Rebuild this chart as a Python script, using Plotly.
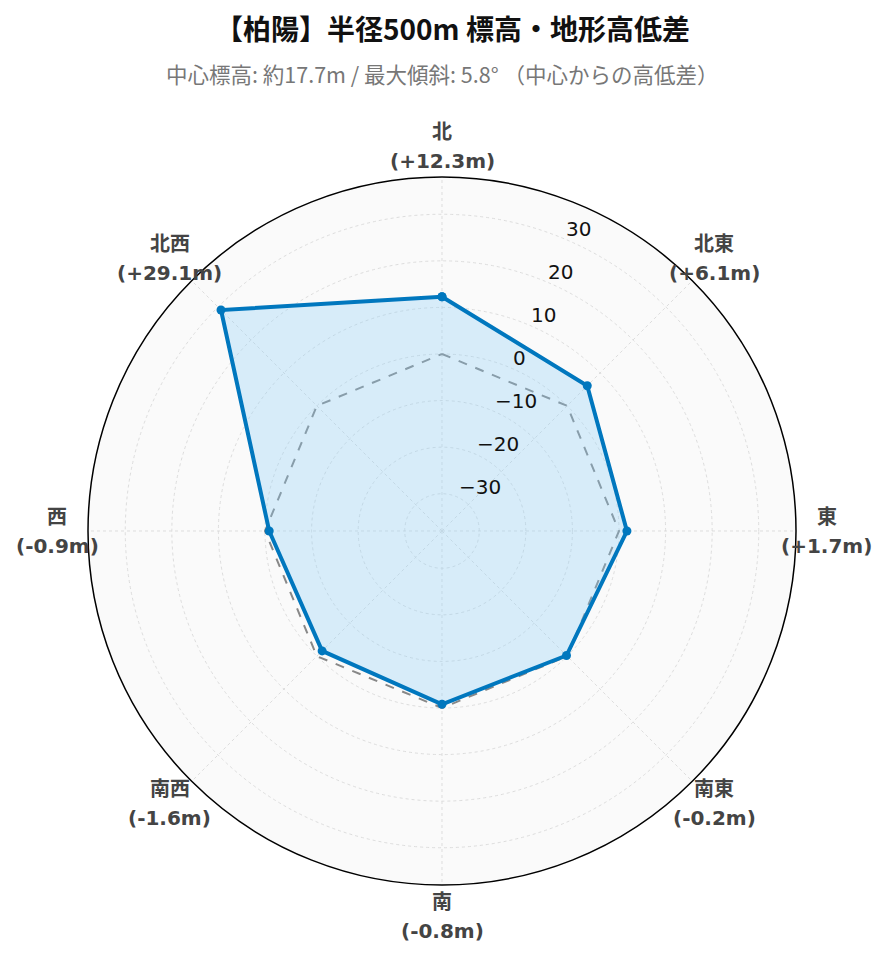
import math
import plotly.graph_objects as go

directions = ["北", "北東", "東", "南東", "南", "南西", "西", "北西"]
angles = [0, 45, 90, 135, 180, 225, 270, 315]
diffs = [12.3, 6.1, 1.7, -0.2, -0.8, -1.6, -0.9, 29.1]
baseline = [0, 0, 0, 0, 0, 0, 0, 0]
radial_ticks = [-30, -20, -10, 0, 10, 20, 30]
radial_range = [-38, 38]
radial_angle = 67.5

title_text = "【柏陽】半径500m 標高・地形高低差"
subtitle_text = "中心標高: 約17.7m / 最大傾斜: 5.8° （中心からの高低差）"

W, H = 889, 962
ml, mr, mt, mb = 72, 93, 169, 85
plot_w = W - ml - mr
plot_h = H - mt - mb
radius_px = min(plot_w, plot_h) / 2
label_radius_px = radius_px + 31

FONT = "DejaVu Sans, Noto Sans CJK JP, sans-serif"
CJK = "Noto Sans CJK JP, sans-serif"

fig = go.Figure()

fig.add_trace(go.Scatterpolar(
    r=baseline + baseline[:1],
    theta=angles + angles[:1],
    mode="lines",
    line=dict(color="#888888", width=2, dash="dash"),
    hoverinfo="skip",
    showlegend=False,
))

fig.add_trace(go.Scatterpolar(
    r=diffs + diffs[:1],
    theta=angles + angles[:1],
    mode="lines+markers",
    fill="toself",
    fillcolor="rgba(135,206,250,0.3)",
    line=dict(color="#0077be", width=4),
    marker=dict(color="#0077be", size=9),
    showlegend=False,
))

annotations = [dict(
    text=subtitle_text,
    x=0.5, xref="paper", xanchor="center",
    y=1 + (mt - 65) / plot_h, yref="paper", yanchor="middle",
    showarrow=False,
    font=dict(size=21.5, color="#777777", family=CJK),
)]

# direction labels around the circle (name + elevation difference)
for d, a, v in zip(directions, angles, diffs):
    rad = math.radians(a)
    ax_ = 0.5 + label_radius_px * math.sin(rad) / plot_w
    ay_ = 0.5 + label_radius_px * math.cos(rad) / plot_h
    for txt, ys in ((f"<b>{d}</b>", 14.5), (f"<b>({v:+.1f}m)</b>", -14.5)):
        annotations.append(dict(
            text=txt, x=ax_, y=ay_, xref="paper", yref="paper",
            xanchor="center", yanchor="middle", yshift=ys,
            showarrow=False,
            font=dict(size=20, color="#444444", family=FONT),
        ))

# radial tick labels, horizontal, along the radial axis
span = radial_range[1] - radial_range[0]
for t in radial_ticks:
    rp = radius_px * (t - radial_range[0]) / span
    rad = math.radians(radial_angle)
    annotations.append(dict(
        text=f"{t}".replace("-", "\u2212"),
        x=0.5 + rp * math.cos(rad) / plot_w,
        y=0.5 + rp * math.sin(rad) / plot_h,
        xref="paper", yref="paper",
        xanchor="left", yanchor="middle", xshift=1, yshift=9.5,
        showarrow=False,
        font=dict(size=20, color="#111111", family=FONT),
    ))

fig.update_layout(
    width=W, height=H,
    margin=dict(l=ml, r=mr, t=mt, b=mb),
    paper_bgcolor="white",
    font=dict(family=FONT, color="#444444"),
    title=dict(
        text=f"<b>{title_text}</b>",
        x=0.5, xanchor="center",
        y=1 - 22 / H, yanchor="middle", yref="container",
        font=dict(size=28, color="#111111", family=CJK),
    ),
    annotations=annotations,
    polar=dict(
        bgcolor="#fafafa",
        radialaxis=dict(
            range=radial_range,
            tickvals=radial_ticks,
            angle=radial_angle,
            showticklabels=False,
            showline=False,
            ticks="",
            gridcolor="#dddddd",
            griddash="dot",
        ),
        angularaxis=dict(
            rotation=90,
            direction="clockwise",
            tickmode="array",
            tickvals=angles,
            showticklabels=False,
            showline=True,
            linecolor="black",
            linewidth=1.5,
            gridcolor="#dddddd",
            griddash="dot",
            ticks="",
        ),
    ),
)

fig.write_html("out.html")
